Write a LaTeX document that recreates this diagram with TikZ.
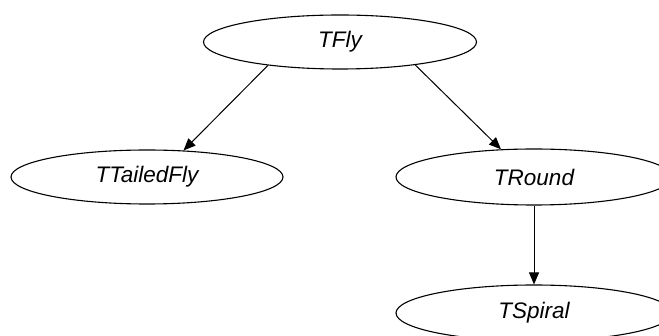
\documentclass[tikz,border=0pt]{standalone}
\usepackage{fontspec}
\setmainfont{Liberation Sans}
\usetikzlibrary{shapes.geometric,arrows.meta}
\begin{document}
\begin{tikzpicture}[x=1pt,y=-1pt,
  cls/.style={draw, ellipse, line width=1.1pt, inner sep=0pt, font=\fontsize{22.5}{26}\selectfont\itshape},
  arr/.style={draw, line width=1pt, -{Triangle[length=12pt,width=10pt]}}]
\useasboundingbox (0,0) rectangle (659,336);
\clip (0,0) rectangle (659,336);
\fill[white] (0,0) rectangle (659,336);
\node[cls, minimum width=273pt, minimum height=54pt] (fly) at (340,42) {TFly};
\node[cls, minimum width=272pt, minimum height=54pt] (tailed) at (147,177) {TTailedFly};
\node[cls, minimum width=276pt, minimum height=56pt] (round) at (534,177) {TRound};
\node[cls, minimum width=276pt, minimum height=56pt] (spiral) at (534,313) {TSpiral};
\draw[arr] (fly.198) -- (tailed.36);
\draw[arr] (fly.343.5) -- (round.140.5);
\draw[arr] (round.south) -- (spiral.north);
\end{tikzpicture}
\end{document}
